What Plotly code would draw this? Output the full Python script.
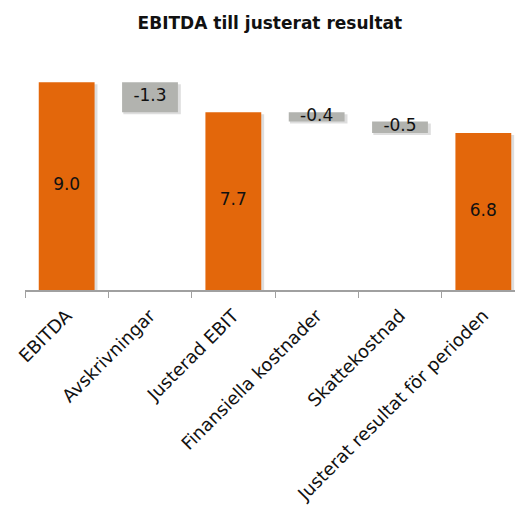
import plotly.graph_objects as go

categories = ["EBITDA", "Avskrivningar", "Justerad EBIT", "Finansiella kostnader",
              "Skattekostnad", "Justerat resultat för perioden"]
values = [9.0, -1.3, 7.7, -0.4, -0.5, 6.8]
is_total = [True, False, True, False, False, True]
labels = ["9.0", "-1.3", "7.7", "-0.4", "-0.5", "6.8"]

ORANGE = "#E3670B"
GRAY = "#B2B3AF"
FONT = "DejaVu Sans, sans-serif"

# compute bases for waterfall
bases, heights, colors = [], [], []
running = 0.0
for v, t in zip(values, is_total):
    if t:
        bases.append(0.0)
        heights.append(v)
        running = v
        colors.append(ORANGE)
    else:
        bases.append(running + v)
        heights.append(-v)
        running = running + v
        colors.append(GRAY)

mids = [b + h / 2 for b, h in zip(bases, heights)]

fig = go.Figure()
# soft shadow
fig.add_trace(go.Bar(
    x=categories, y=heights, base=[b - 0.09 for b in bases],
    width=0.69, offset=-0.32,
    marker=dict(color="rgba(0,0,0,0.13)", line=dict(width=0)),
    hoverinfo="skip", showlegend=False,
))
fig.add_trace(go.Bar(
    x=categories, y=heights, base=bases, width=0.67,
    marker=dict(color=colors, line=dict(width=0)),
    showlegend=False, textposition="none",
))
fig.add_trace(go.Scatter(
    x=categories, y=mids, mode="text", text=labels,
    textfont=dict(family=FONT, size=17, color="#111111"),
    showlegend=False, hoverinfo="skip",
))

fig.update_layout(
    width=515, height=506,
    margin=dict(l=25, r=0, t=60, b=216),
    paper_bgcolor="white", plot_bgcolor="white",
    barmode="overlay",
    title=dict(text="<b>EBITDA till justerat resultat</b>", x=0.524, xanchor="center",
               y=0.955, yanchor="middle",
               font=dict(family=FONT, size=17, color="#111111")),
    font=dict(family=FONT, color="#111111"),
    xaxis=dict(
        type="category", range=[-0.5, 5.38],
        tickson="boundaries", ticks="outside", ticklen=6, tickcolor="#A0A0A0",
        showline=True, linecolor="#A0A0A0", linewidth=2,
        showgrid=False, tickangle=-45, ticklabelstandoff=6,
        tickfont=dict(family=FONT, size=18, color="#111111"),
    ),
    yaxis=dict(range=[0, 9.96], visible=False, showgrid=False, zeroline=False),
)

fig.write_html("out.html")
